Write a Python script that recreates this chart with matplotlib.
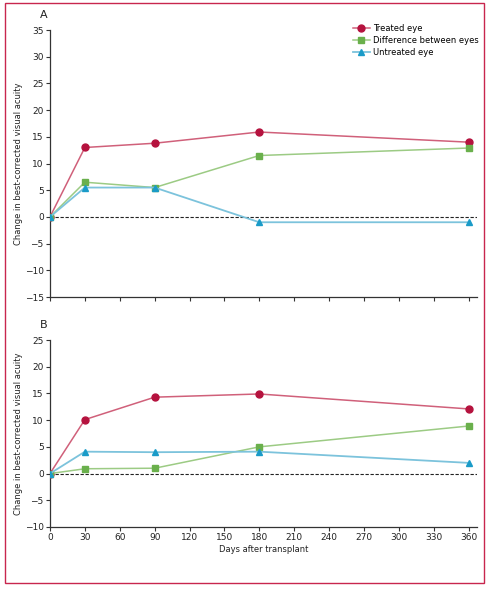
import matplotlib
matplotlib.use('Agg')
import matplotlib.pyplot as plt
from matplotlib.patches import Rectangle

plt.rcParams['font.family'] = ['DejaVu Sans']

days = [0, 30, 90, 180, 360]

# panel A
a_treated = [0, 13.0, 13.8, 15.9, 14.0]
a_difference = [0, 6.5, 5.5, 11.5, 12.9]
a_untreated = [0, 5.5, 5.5, -1.0, -1.0]

# panel B
b_treated = [0, 10.1, 14.3, 14.9, 12.1]
b_difference = [0, 0.9, 1.0, 5.0, 8.9]
b_untreated = [0, 4.1, 4.0, 4.1, 2.0]

x_ticks = list(range(0, 361, 30))
a_yticks = list(range(-15, 36, 5))
b_yticks = list(range(-10, 26, 5))

red_mk, red_ln = '#b5123e', '#d0607a'
green_mk, green_ln = '#6ab04c', '#9ccb84'
blue_mk, blue_ln = '#1a9bc8', '#7cc3dc'

fig = plt.figure(figsize=(4.9, 5.9), dpi=100)
fig.patches.append(Rectangle((5 / 490, 1 - 583 / 590), 479 / 490, 580 / 590,
                             transform=fig.transFigure, fill=False,
                             edgecolor='#c8264e', linewidth=1.0))

ax1 = fig.add_axes([0.102, 0.4966, 0.871, 0.4525])
ax2 = fig.add_axes([0.102, 0.1068, 0.871, 0.3169])


def draw(ax, treated, diff, untreated, yticks, show_xlabels):
    ax.axhline(0, color='#222222', linestyle=(0, (3, 1.5)), linewidth=0.8, zorder=1)
    ax.plot(days, treated, color=red_ln, linewidth=1.1, marker='o', markersize=5,
            markerfacecolor=red_mk, markeredgecolor=red_mk, label='Treated eye', zorder=3)
    ax.plot(days, diff, color=green_ln, linewidth=1.1, marker='s', markersize=5,
            markerfacecolor=green_mk, markeredgecolor=green_mk,
            label='Difference between eyes', zorder=3)
    ax.plot(days, untreated, color=blue_ln, linewidth=1.3, marker='^', markersize=5,
            markerfacecolor=blue_mk, markeredgecolor=blue_mk, label='Untreated eye', zorder=3)
    ax.set_xlim(0, 367)
    ax.set_ylim(yticks[0], yticks[-1])
    ax.set_xticks(x_ticks)
    ax.set_yticks(yticks)
    ax.set_yticklabels([str(v).replace('-', '\u2212') for v in yticks])
    if not show_xlabels:
        ax.set_xticklabels([])
    ax.spines['top'].set_visible(False)
    ax.spines['right'].set_visible(False)
    for s in ['left', 'bottom']:
        ax.spines[s].set_color('#333333')
        ax.spines[s].set_linewidth(0.9)
    ax.tick_params(direction='out', length=3, width=0.8, labelsize=6.5,
                   colors='#333333', pad=1.5)
    ax.set_ylabel('Change in best-corrected visual acuity', fontsize=6, color='#222222',
                  labelpad=1)
    for lab in ax.get_xticklabels() + ax.get_yticklabels():
        lab.set_color('#222222')


draw(ax1, a_treated, a_difference, a_untreated, a_yticks, False)
draw(ax2, b_treated, b_difference, b_untreated, b_yticks, True)
ax2.set_xlabel('Days after transplant', fontsize=6, color='#222222', labelpad=2)

leg = ax1.legend(loc='upper right', bbox_to_anchor=(1.018, 1.045), frameon=False, fontsize=6,
                 handlelength=2.0, handletextpad=0.4, labelspacing=0.35, borderpad=0.2)

fig.text(40 / 490, 1 - 15 / 590, 'A', fontsize=8, color='#222222', va='center')
fig.text(40 / 490, 1 - 325 / 590, 'B', fontsize=8, color='#222222', va='center')

fig.savefig('out.png', dpi=100)
